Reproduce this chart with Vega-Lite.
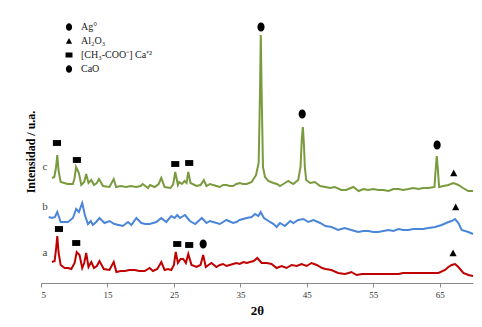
{
  "$schema": "https://vega.github.io/schema/vega-lite/v6.json",
  "width": 432,
  "height": 263,
  "autosize": {"type": "none"},
  "padding": {"left": 41, "top": 20, "right": 9, "bottom": 44},
  "background": "white",
  "config": {"view": {"stroke": null}, "font": "Liberation Serif"},
  "datasets": {
    "xrd": [
      {"s":"c","x":6.65,"v":105},{"s":"c","x":7.0,"v":106},{"s":"c","x":7.25,"v":115},{"s":"c","x":7.45,"v":128},{"s":"c","x":7.65,"v":112},{"s":"c","x":7.96,"v":101},{"s":"c","x":8.5,"v":100},{"s":"c","x":9.0,"v":99},{"s":"c","x":9.8,"v":99},{"s":"c","x":10.05,"v":105},{"s":"c","x":10.27,"v":116},{"s":"c","x":10.7,"v":110},{"s":"c","x":11.06,"v":98},{"s":"c","x":11.5,"v":101},{"s":"c","x":11.8,"v":109},{"s":"c","x":12.15,"v":100},{"s":"c","x":12.57,"v":103},{"s":"c","x":12.97,"v":98},{"s":"c","x":13.4,"v":100},{"s":"c","x":13.73,"v":104},{"s":"c","x":14.33,"v":97},{"s":"c","x":15.3,"v":96},{"s":"c","x":15.94,"v":104},{"s":"c","x":16.3,"v":96},{"s":"c","x":17.0,"v":97},{"s":"c","x":17.8,"v":96},{"s":"c","x":18.5,"v":97},{"s":"c","x":19.3,"v":96},{"s":"c","x":20.0,"v":97},{"s":"c","x":20.3,"v":99},{"s":"c","x":21.1,"v":95},{"s":"c","x":21.4,"v":98},{"s":"c","x":22.1,"v":96},{"s":"c","x":22.7,"v":99},{"s":"c","x":23.1,"v":105},{"s":"c","x":23.6,"v":96},{"s":"c","x":24.5,"v":95},{"s":"c","x":24.9,"v":99},{"s":"c","x":25.2,"v":111},{"s":"c","x":25.6,"v":98},{"s":"c","x":25.8,"v":101},{"s":"c","x":26.2,"v":99},{"s":"c","x":26.6,"v":102},{"s":"c","x":26.9,"v":100},{"s":"c","x":27.16,"v":111},{"s":"c","x":27.5,"v":100},{"s":"c","x":28.4,"v":97},{"s":"c","x":29.0,"v":98},{"s":"c","x":29.5,"v":103},{"s":"c","x":29.9,"v":97},{"s":"c","x":30.4,"v":99},{"s":"c","x":30.9,"v":98},{"s":"c","x":31.4,"v":97},{"s":"c","x":31.9,"v":96},{"s":"c","x":32.4,"v":98},{"s":"c","x":32.9,"v":98},{"s":"c","x":33.4,"v":97},{"s":"c","x":33.9,"v":97},{"s":"c","x":34.4,"v":99},{"s":"c","x":34.9,"v":100},{"s":"c","x":35.4,"v":99},{"s":"c","x":35.95,"v":99},{"s":"c","x":36.7,"v":101},{"s":"c","x":37.35,"v":108},{"s":"c","x":37.75,"v":120},{"s":"c","x":37.95,"v":190},{"s":"c","x":38.07,"v":248},{"s":"c","x":38.2,"v":190},{"s":"c","x":38.4,"v":116},{"s":"c","x":38.7,"v":106},{"s":"c","x":39.2,"v":102},{"s":"c","x":39.95,"v":100},{"s":"c","x":40.5,"v":99},{"s":"c","x":40.96,"v":97},{"s":"c","x":41.7,"v":100},{"s":"c","x":42.2,"v":102},{"s":"c","x":42.96,"v":99},{"s":"c","x":43.7,"v":103},{"s":"c","x":44.05,"v":116},{"s":"c","x":44.25,"v":145},{"s":"c","x":44.4,"v":156},{"s":"c","x":44.55,"v":140},{"s":"c","x":44.7,"v":116},{"s":"c","x":44.9,"v":103},{"s":"c","x":45.5,"v":100},{"s":"c","x":46.2,"v":101},{"s":"c","x":47.0,"v":97},{"s":"c","x":47.8,"v":96},{"s":"c","x":48.5,"v":95},{"s":"c","x":49.2,"v":96},{"s":"c","x":50.2,"v":93},{"s":"c","x":50.9,"v":93},{"s":"c","x":52.0,"v":96},{"s":"c","x":52.8,"v":92},{"s":"c","x":53.5,"v":94},{"s":"c","x":54.25,"v":93},{"s":"c","x":55.0,"v":94},{"s":"c","x":55.75,"v":93},{"s":"c","x":56.5,"v":93},{"s":"c","x":57.3,"v":92},{"s":"c","x":58.0,"v":94},{"s":"c","x":58.8,"v":94},{"s":"c","x":59.5,"v":93},{"s":"c","x":60.3,"v":94},{"s":"c","x":61.0,"v":95},{"s":"c","x":61.8,"v":94},{"s":"c","x":62.5,"v":95},{"s":"c","x":63.3,"v":95},{"s":"c","x":64.2,"v":96},{"s":"c","x":64.4,"v":115},{"s":"c","x":64.55,"v":127},{"s":"c","x":64.7,"v":115},{"s":"c","x":64.9,"v":96},{"s":"c","x":65.55,"v":97},{"s":"c","x":66.3,"v":98},{"s":"c","x":67.05,"v":100},{"s":"c","x":67.8,"v":98},{"s":"c","x":68.5,"v":95},{"s":"c","x":69.3,"v":92},{"s":"c","x":70.0,"v":92},
      {"s":"b","x":6.16,"v":66},{"s":"b","x":6.66,"v":65},{"s":"b","x":7.1,"v":66},{"s":"b","x":7.45,"v":71},{"s":"b","x":7.96,"v":61},{"s":"b","x":8.5,"v":61},{"s":"b","x":9.06,"v":61},{"s":"b","x":9.8,"v":65},{"s":"b","x":10.3,"v":74},{"s":"b","x":10.7,"v":71},{"s":"b","x":11.2,"v":80},{"s":"b","x":11.6,"v":68},{"s":"b","x":12.07,"v":59},{"s":"b","x":12.5,"v":62},{"s":"b","x":12.8,"v":58},{"s":"b","x":13.3,"v":61},{"s":"b","x":13.8,"v":65},{"s":"b","x":14.55,"v":60},{"s":"b","x":15.3,"v":62},{"s":"b","x":16.05,"v":59},{"s":"b","x":16.7,"v":58},{"s":"b","x":17.3,"v":57},{"s":"b","x":18.1,"v":61},{"s":"b","x":18.6,"v":58},{"s":"b","x":19.35,"v":65},{"s":"b","x":20.1,"v":60},{"s":"b","x":20.7,"v":59},{"s":"b","x":21.35,"v":59},{"s":"b","x":22.35,"v":61},{"s":"b","x":23.1,"v":65},{"s":"b","x":23.85,"v":61},{"s":"b","x":24.6,"v":67},{"s":"b","x":25.1,"v":65},{"s":"b","x":25.5,"v":68},{"s":"b","x":25.9,"v":65},{"s":"b","x":26.67,"v":68},{"s":"b","x":27.4,"v":62},{"s":"b","x":28.2,"v":59},{"s":"b","x":29.2,"v":65},{"s":"b","x":29.9,"v":60},{"s":"b","x":30.4,"v":62},{"s":"b","x":30.9,"v":61},{"s":"b","x":31.9,"v":59},{"s":"b","x":32.4,"v":61},{"s":"b","x":32.9,"v":63},{"s":"b","x":33.9,"v":60},{"s":"b","x":34.4,"v":61},{"s":"b","x":34.9,"v":63},{"s":"b","x":35.95,"v":65},{"s":"b","x":36.7,"v":66},{"s":"b","x":37.2,"v":69},{"s":"b","x":37.7,"v":67},{"s":"b","x":38.05,"v":71},{"s":"b","x":38.55,"v":65},{"s":"b","x":39.45,"v":61},{"s":"b","x":40.0,"v":59},{"s":"b","x":40.45,"v":56},{"s":"b","x":40.96,"v":60},{"s":"b","x":41.7,"v":57},{"s":"b","x":42.5,"v":62},{"s":"b","x":42.96,"v":60},{"s":"b","x":43.7,"v":63},{"s":"b","x":44.5,"v":64},{"s":"b","x":45.2,"v":61},{"s":"b","x":46.0,"v":63},{"s":"b","x":47.0,"v":60},{"s":"b","x":47.8,"v":57},{"s":"b","x":48.7,"v":56},{"s":"b","x":49.7,"v":53},{"s":"b","x":50.7,"v":55},{"s":"b","x":51.7,"v":53},{"s":"b","x":52.7,"v":51},{"s":"b","x":53.5,"v":52},{"s":"b","x":54.25,"v":52},{"s":"b","x":55.0,"v":51},{"s":"b","x":55.75,"v":51},{"s":"b","x":56.5,"v":52},{"s":"b","x":57.3,"v":53},{"s":"b","x":58.0,"v":52},{"s":"b","x":58.8,"v":54},{"s":"b","x":59.5,"v":53},{"s":"b","x":60.3,"v":53},{"s":"b","x":61.0,"v":54},{"s":"b","x":61.8,"v":54},{"s":"b","x":62.5,"v":54},{"s":"b","x":63.3,"v":55},{"s":"b","x":64.3,"v":56},{"s":"b","x":65.3,"v":58},{"s":"b","x":66.3,"v":61},{"s":"b","x":66.8,"v":62},{"s":"b","x":67.3,"v":64},{"s":"b","x":67.8,"v":60},{"s":"b","x":68.3,"v":53},{"s":"b","x":69.3,"v":51},{"s":"b","x":70.0,"v":49},
      {"s":"a","x":6.65,"v":21},{"s":"a","x":7.05,"v":22},{"s":"a","x":7.25,"v":33},{"s":"a","x":7.45,"v":47},{"s":"a","x":7.65,"v":30},{"s":"a","x":7.96,"v":18},{"s":"a","x":8.56,"v":15},{"s":"a","x":9.06,"v":15},{"s":"a","x":9.56,"v":14},{"s":"a","x":10.06,"v":20},{"s":"a","x":10.37,"v":31},{"s":"a","x":10.8,"v":28},{"s":"a","x":11.2,"v":15},{"s":"a","x":11.5,"v":20},{"s":"a","x":11.8,"v":30},{"s":"a","x":12.15,"v":16},{"s":"a","x":12.57,"v":21},{"s":"a","x":12.97,"v":15},{"s":"a","x":13.4,"v":17},{"s":"a","x":13.8,"v":22},{"s":"a","x":14.45,"v":14},{"s":"a","x":15.3,"v":13},{"s":"a","x":15.94,"v":21},{"s":"a","x":16.35,"v":11},{"s":"a","x":17.0,"v":12},{"s":"a","x":17.6,"v":12},{"s":"a","x":18.3,"v":13},{"s":"a","x":19.1,"v":13},{"s":"a","x":19.8,"v":12},{"s":"a","x":20.6,"v":12},{"s":"a","x":21.35,"v":15},{"s":"a","x":21.85,"v":12},{"s":"a","x":22.5,"v":14},{"s":"a","x":23.1,"v":21},{"s":"a","x":23.6,"v":13},{"s":"a","x":24.1,"v":14},{"s":"a","x":24.6,"v":13},{"s":"a","x":25.0,"v":18},{"s":"a","x":25.27,"v":31},{"s":"a","x":25.6,"v":20},{"s":"a","x":26.0,"v":24},{"s":"a","x":26.4,"v":24},{"s":"a","x":26.8,"v":20},{"s":"a","x":27.16,"v":29},{"s":"a","x":27.65,"v":18},{"s":"a","x":28.4,"v":16},{"s":"a","x":29.0,"v":18},{"s":"a","x":29.4,"v":28},{"s":"a","x":29.8,"v":16},{"s":"a","x":30.2,"v":18},{"s":"a","x":30.65,"v":20},{"s":"a","x":31.4,"v":16},{"s":"a","x":31.9,"v":18},{"s":"a","x":32.4,"v":19},{"s":"a","x":32.9,"v":17},{"s":"a","x":33.4,"v":18},{"s":"a","x":33.9,"v":19},{"s":"a","x":34.4,"v":20},{"s":"a","x":34.9,"v":19},{"s":"a","x":35.45,"v":21},{"s":"a","x":35.95,"v":20},{"s":"a","x":36.45,"v":21},{"s":"a","x":37.0,"v":22},{"s":"a","x":37.55,"v":25},{"s":"a","x":38.2,"v":20},{"s":"a","x":38.95,"v":20},{"s":"a","x":39.7,"v":19},{"s":"a","x":40.45,"v":15},{"s":"a","x":41.2,"v":17},{"s":"a","x":41.95,"v":15},{"s":"a","x":42.7,"v":18},{"s":"a","x":43.5,"v":17},{"s":"a","x":44.2,"v":19},{"s":"a","x":44.97,"v":17},{"s":"a","x":45.7,"v":20},{"s":"a","x":46.5,"v":18},{"s":"a","x":47.3,"v":15},{"s":"a","x":47.8,"v":14},{"s":"a","x":48.7,"v":13},{"s":"a","x":49.7,"v":10},{"s":"a","x":50.7,"v":9},{"s":"a","x":51.3,"v":10},{"s":"a","x":51.7,"v":11},{"s":"a","x":52.5,"v":8},{"s":"a","x":53.3,"v":9},{"s":"a","x":54.25,"v":9},{"s":"a","x":55.0,"v":9},{"s":"a","x":55.75,"v":9},{"s":"a","x":56.5,"v":9},{"s":"a","x":57.3,"v":9},{"s":"a","x":58.0,"v":9},{"s":"a","x":58.8,"v":9},{"s":"a","x":59.5,"v":10},{"s":"a","x":60.3,"v":10},{"s":"a","x":61.0,"v":10},{"s":"a","x":61.8,"v":10},{"s":"a","x":62.5,"v":10},{"s":"a","x":63.3,"v":10},{"s":"a","x":64.0,"v":10},{"s":"a","x":64.8,"v":10},{"s":"a","x":65.8,"v":13},{"s":"a","x":66.3,"v":16},{"s":"a","x":66.8,"v":18},{"s":"a","x":67.3,"v":19},{"s":"a","x":67.8,"v":16},{"s":"a","x":68.55,"v":10},{"s":"a","x":69.3,"v":8},{"s":"a","x":70.0,"v":7}
    ],
    "peaks": [
      {"m":"[CH₃-COO⁻] Ca⁺²","x":7.4,"v":140},
      {"m":"[CH₃-COO⁻] Ca⁺²","x":10.4,"v":123},
      {"m":"[CH₃-COO⁻] Ca⁺²","x":25.2,"v":119},
      {"m":"[CH₃-COO⁻] Ca⁺²","x":27.3,"v":120},
      {"m":"Ag°","x":38.1,"v":256},
      {"m":"Ag°","x":44.3,"v":169},
      {"m":"Ag°","x":64.6,"v":138},
      {"m":"Al₂O₃","x":67.1,"v":110},
      {"m":"Al₂O₃","x":67.4,"v":76},
      {"m":"[CH₃-COO⁻] Ca⁺²","x":7.7,"v":54},
      {"m":"[CH₃-COO⁻] Ca⁺²","x":10.3,"v":40},
      {"m":"[CH₃-COO⁻] Ca⁺²","x":25.5,"v":39},
      {"m":"[CH₃-COO⁻] Ca⁺²","x":27.3,"v":38},
      {"m":"CaO","x":29.4,"v":39},
      {"m":"Al₂O₃","x":67.0,"v":30}
    ],
    "labels": [
      {"s":"a","x":5.6,"v":30},
      {"s":"b","x":5.6,"v":76},
      {"s":"c","x":5.6,"v":116}
    ]
  },
  "layer": [
    {
      "data": {"name": "xrd"},
      "mark": {"type": "line", "strokeWidth": 2, "interpolate": "linear"},
      "encoding": {
        "x": {"field": "x", "type": "quantitative",
          "scale": {"domain": [5, 70], "nice": false, "zero": false},
          "axis": {"values": [5, 15, 25, 35, 45, 55, 65], "title": "2θ", "titleFont": "Liberation Serif", "titleFontSize": 13, "titleFontWeight": "bold", "titleColor": "#000", "titlePadding": 5, "labelFont": "Liberation Serif", "labelFontSize": 9, "labelColor": "#333", "domainColor": "#888", "tickColor": "#888", "tickSize": 4, "labelPadding": 3, "grid": false}},
        "y": {"field": "v", "type": "quantitative",
          "scale": {"domain": [0, 263], "nice": false},
          "axis": {"title": "Intensidad / u.a.", "domain": false, "ticks": false, "labels": false, "grid": false, "titleFont": "Liberation Serif", "titleFontSize": 12, "titleFontWeight": "bold", "titleColor": "#000", "titlePadding": 4}},
        "color": {"field": "s", "type": "nominal", "scale": {"domain": ["a", "b", "c"], "range": ["#c00000", "#4a86d8", "#7a9a3e"]}, "legend": null}
      }
    },
    {
      "data": {"name": "peaks"},
      "mark": {"type": "point", "filled": true, "color": "black", "opacity": 1, "size": 81},
      "encoding": {
        "x": {"field": "x", "type": "quantitative"},
        "y": {"field": "v", "type": "quantitative"},
        "shape": {"field": "m", "type": "nominal",
          "scale": {"domain": ["Ag°", "Al₂O₃", "[CH₃-COO⁻] Ca⁺²", "CaO"],
            "range": ["M-0.8,0A0.8,1 0 1,1 0.8,0A0.8,1 0 1,1 -0.8,0Z", "M0,-0.8L0.8,0.7L-0.8,0.7Z", "M-0.9,-0.65H0.9V0.65H-0.9Z", "M-0.8,0A0.8,1 0 1,1 0.8,0A0.8,1 0 1,1 -0.8,0Z"]},
          "legend": {"title": null, "orient": "none", "legendX": 23, "legendY": 2, "padding": 0, "symbolSize": 60, "symbolFillColor": "black", "symbolStrokeColor": "black", "symbolStrokeWidth": 0, "labelFont": "Liberation Serif", "labelFontSize": 10, "labelColor": "#222", "labelOffset": 7, "rowPadding": 4, "labelLimit": 300}}
      }
    },
    {
      "data": {"name": "labels"},
      "mark": {"type": "text", "font": "Liberation Serif", "fontSize": 11, "color": "#444", "align": "center", "baseline": "middle"},
      "encoding": {
        "x": {"field": "x", "type": "quantitative"},
        "y": {"field": "v", "type": "quantitative"},
        "text": {"field": "s"}
      }
    }
  ]
}
